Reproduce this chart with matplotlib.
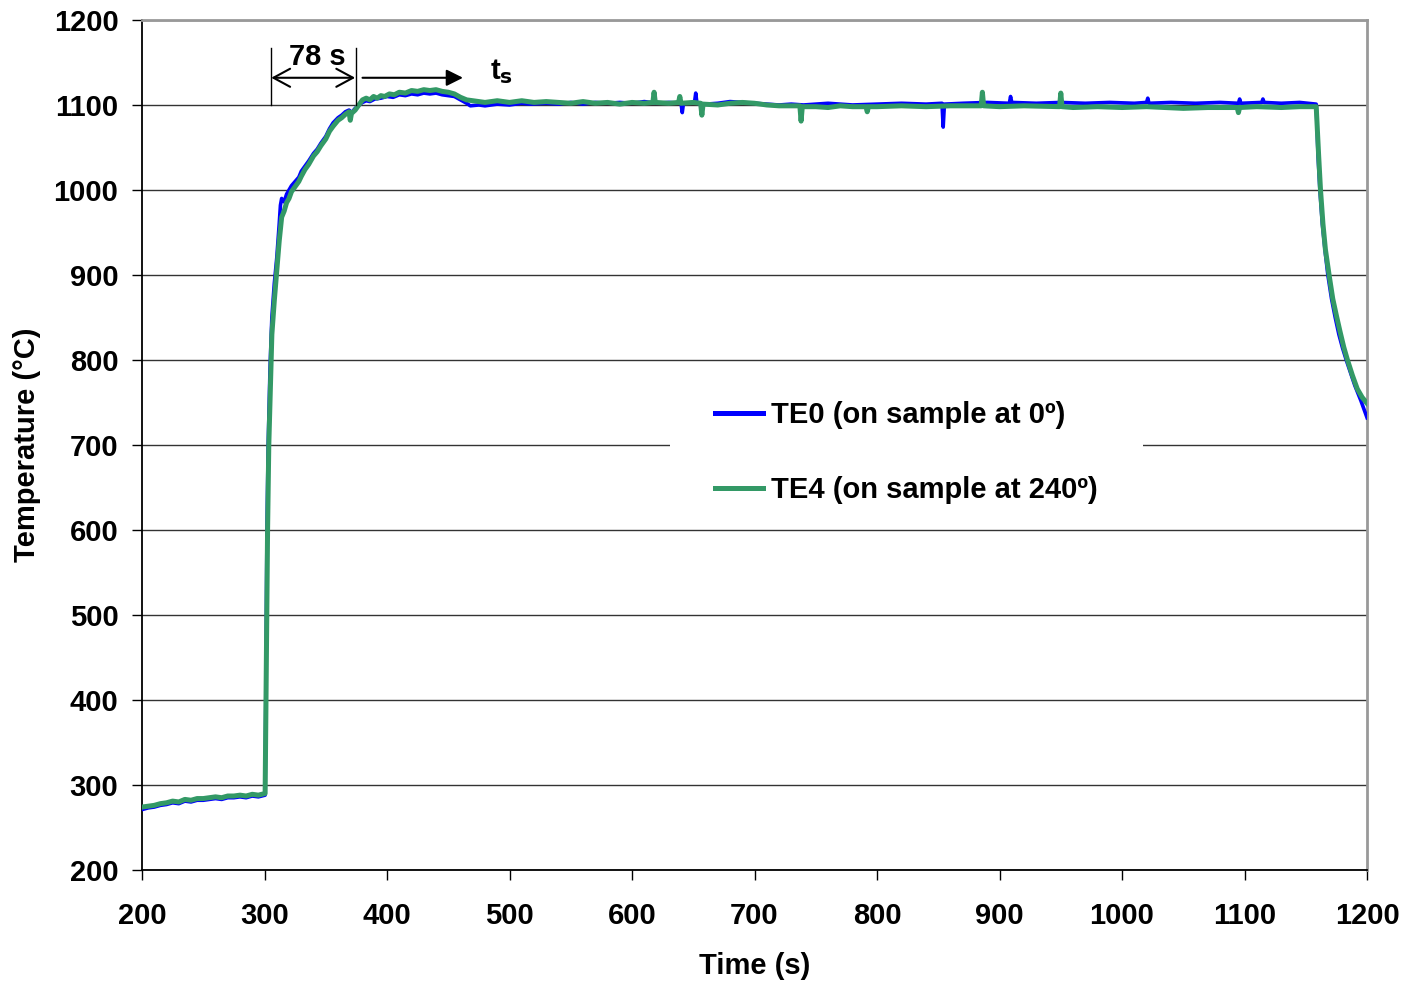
import matplotlib
matplotlib.use("Agg")
import matplotlib.pyplot as plt
from matplotlib.patches import Rectangle

plt.rcParams["font.family"] = ["Liberation Sans", "DejaVu Sans"]
plt.rcParams["font.weight"] = "bold"

# --- TE0 (on sample at 0º) ---
te0_time = [200, 205, 210, 215, 220, 225, 230, 235, 240, 245, 250, 255, 260, 265, 270,
            275, 280, 285, 290, 295, 300.5, 301.3, 302, 303, 304.5, 306, 308, 310, 312,
            313, 314, 316, 318, 320, 322, 325, 328, 330, 333, 336, 340, 343, 346, 350,
            353, 356, 360, 363, 366, 369, 371, 374, 377, 380, 383, 386, 390, 395, 400,
            405, 410, 415, 420, 425, 430, 435, 440, 445, 450, 455, 460, 465, 468, 475,
            480, 490, 500, 510, 517, 530, 540, 550, 560, 570, 580, 590, 600, 610, 620,
            630, 640, 641, 642, 651, 652, 653, 660, 670, 680, 690, 700, 710, 720, 730,
            740, 750, 760, 780, 800, 820, 840, 853, 854, 855, 870, 890, 908, 909, 910,
            930, 950, 970, 990, 1010, 1020, 1021, 1022, 1040, 1060, 1080, 1095, 1096, 1097,
            1114, 1115, 1116, 1130, 1145, 1158.5, 1160, 1161.5, 1163.5, 1166, 1168, 1171,
            1174, 1177, 1180, 1183, 1187, 1190, 1195, 1200]
te0_temp = [271, 273, 274, 276, 277, 279, 278, 281, 280, 282, 282, 283, 284, 283, 285,
            285, 286, 285, 287, 286, 288, 450, 600, 700, 790, 850, 890, 920, 960,
            982, 990, 986, 995, 1000, 1005, 1010, 1015, 1022, 1028, 1034, 1043, 1048, 1055, 1063,
            1072, 1079, 1085, 1088, 1092, 1094, 1091, 1096, 1100, 1103, 1105, 1104, 1107, 1108, 1110,
            1109, 1112, 1111, 1113, 1112, 1114, 1113, 1114, 1112, 1111, 1110, 1106, 1102, 1099, 1100,
            1099, 1101, 1100, 1102, 1101, 1102, 1101, 1103, 1101, 1103, 1102, 1103, 1102, 1104, 1102,
            1103, 1102, 1091, 1102, 1103, 1114, 1102, 1101, 1102, 1104, 1103, 1102, 1101, 1100, 1101,
            1100, 1101, 1102, 1100, 1101, 1102, 1101, 1102, 1074, 1101, 1102, 1103, 1102, 1110, 1103,
            1102, 1103, 1102, 1103, 1102, 1103, 1108, 1102, 1103, 1102, 1103, 1102, 1107, 1102,
            1103, 1107, 1103, 1102, 1103, 1101, 1040, 1000, 960, 925, 900, 872,
            850, 830, 814, 800, 783, 770, 752, 732]

# --- TE4 (on sample at 240º) ---
te4_time = [200, 205, 210, 215, 220, 225, 230, 235, 240, 245, 250, 255, 260, 265, 270,
            275, 280, 285, 290, 295, 300.5, 301.5, 302.5, 303.5, 305, 306, 308, 310, 312,
            314, 316, 318, 320, 322, 325, 328, 330, 333, 336, 340, 343, 346, 350, 353,
            356, 360, 363, 366, 369, 370, 371, 374, 377, 380, 383, 386, 389, 392, 395,
            398, 402, 406, 410, 415, 420, 425, 430, 435, 440, 445, 450, 455, 460, 465,
            470, 475, 480, 490, 500, 510, 520, 530, 540, 550, 560, 570, 580, 590, 600,
            610, 617, 618, 619, 630, 638, 639, 640, 650, 656, 657, 658, 670, 680, 690,
            700, 710, 720, 737, 738, 739, 750, 760, 770, 780, 791, 792, 793, 800, 820,
            840, 860, 885, 886, 887, 900, 920, 949, 950, 951, 960, 980, 1000, 1020, 1050,
            1070, 1094, 1095, 1096, 1110, 1130, 1145, 1158.5, 1160.5, 1162, 1164, 1166, 1169,
            1172, 1175, 1178, 1181, 1184, 1188, 1192, 1196, 1200]
te4_temp = [274, 275, 276, 278, 279, 281, 280, 283, 282, 284, 284, 285, 286, 285, 287,
            287, 288, 287, 289, 288, 290, 450, 600, 700, 780, 830, 870, 905, 940,
            968, 975, 985, 990, 998, 1004, 1010, 1016, 1024, 1030, 1040, 1045, 1052, 1060, 1069,
            1075, 1082, 1085, 1089, 1092, 1082, 1090, 1094, 1100, 1106, 1108, 1106, 1110, 1108, 1111,
            1110, 1113, 1112, 1115, 1114, 1117, 1116, 1118, 1117, 1118, 1116, 1115, 1113, 1109, 1106,
            1105, 1104, 1103, 1105, 1103, 1105, 1103, 1104, 1103, 1102, 1104, 1102, 1103, 1101, 1103,
            1102, 1103, 1115, 1103, 1102, 1103, 1110, 1102, 1103, 1102, 1088, 1101, 1100, 1102, 1103,
            1102, 1100, 1099, 1099, 1081, 1098, 1098, 1097, 1099, 1098, 1098, 1092, 1098, 1098, 1099,
            1098, 1099, 1099, 1115, 1099, 1098, 1099, 1098, 1114, 1098, 1097, 1098, 1097, 1098, 1096,
            1097, 1097, 1091, 1097, 1098, 1097, 1098, 1098, 1040, 1000, 960, 930, 900,
            872, 852, 833, 815, 800, 782, 766, 756, 749]

x_ticks = list(range(200, 1201, 100))
y_ticks = list(range(200, 1201, 100))

fig = plt.figure(figsize=(14.06, 9.84), dpi=100)
ax = fig.add_axes([0.101, 0.1159, 0.8713, 0.8638])

ax.plot(te0_time, te0_temp, color="#0000FF", lw=2.6, label="TE0 (on sample at 0º)",
        solid_joinstyle="round", zorder=3)
ax.plot(te4_time, te4_temp, color="#339966", lw=3.6, label="TE4 (on sample at 240º)",
        solid_joinstyle="round", zorder=4)

ax.set_xlim(200, 1200)
ax.set_ylim(200, 1200)
ax.set_xticks(x_ticks)
ax.set_yticks(y_ticks)
ax.yaxis.grid(True, color="#333333", lw=1)
ax.set_axisbelow(True)
ax.tick_params(axis="both", direction="out", length=7, width=1, labelsize=21, color="black")
ax.tick_params(axis="y", pad=10)
ax.tick_params(axis="x", pad=16)
for s in ("left", "bottom"):
    ax.spines[s].set_color("black")
    ax.spines[s].set_linewidth(1.3)
for s in ("top", "right"):
    ax.spines[s].set_color("#999999")
    ax.spines[s].set_linewidth(2)

ax.set_xlabel("Time (s)", fontsize=21, fontweight="bold", labelpad=16)
ax.set_ylabel("Temperature (°C)", fontsize=21, fontweight="bold", labelpad=9)

# annotation: 78 s interval and t_s arrow
ax.plot([305, 305], [1100, 1167], color="black", lw=1, zorder=5)
ax.plot([374.7, 374.7], [1100, 1167], color="black", lw=1, zorder=5)
ax.annotate("", xy=(305.5, 1132), xytext=(374, 1132),
            arrowprops=dict(arrowstyle="<->,head_length=1.2,head_width=0.65",
                            color="black", lw=1.5, shrinkA=0, shrinkB=0))
ax.text(343, 1157, "78 s", fontsize=21, fontweight="bold", ha="center", va="center")
ax.annotate("", xy=(462, 1132), xytext=(380, 1132),
            arrowprops=dict(arrowstyle="-|>,head_length=1.0,head_width=0.5",
                            color="black", lw=1.5, shrinkA=0, shrinkB=0))
ax.text(484, 1139, "t$_{\\mathbf{s}}$", fontsize=21, fontweight="bold", ha="left", va="center")

# white box behind legend hides the 700 gridline
ax.add_patch(Rectangle((0.431, 0.42), 0.386, 0.16, transform=ax.transAxes,
                       facecolor="white", edgecolor="none", zorder=1))
leg = ax.legend(loc="center", bbox_to_anchor=(0.624, 0.491), fontsize=21, frameon=False,
                handlelength=1.65, handletextpad=0.25, labelspacing=1.62, borderpad=0.5)
for h in leg.get_lines():
    h.set_linewidth(3.6)

fig.savefig("out.png", dpi=100)
